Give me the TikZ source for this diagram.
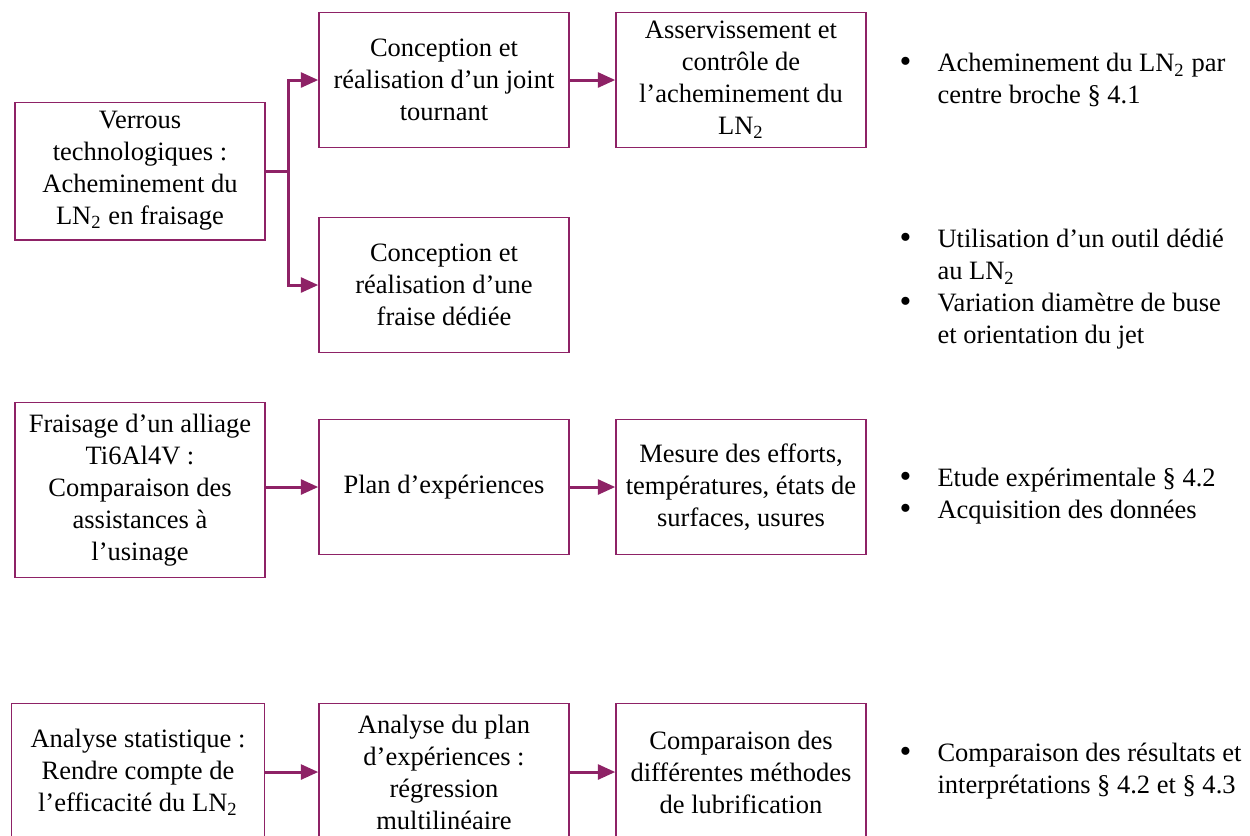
\documentclass[tikz,border=0pt]{standalone}
\usepackage{fontspec}
\setmainfont{Liberation Serif}
\usepackage{xcolor}
\definecolor{myp}{RGB}{142, 34, 102}
\usetikzlibrary{arrows.meta, positioning}
\newcommand{\LNdeux}{LN\textsubscript{2}}
\newcommand{\puce}{\makebox[4pt][l]{\raisebox{-0.3pt}{\fontsize{13.5}{12.8}\selectfont\textbullet}}}

\begin{document}
\begin{tikzpicture}[x=0.4pt, y=-0.4pt,
    every node/.style={font=\fontsize{10.6}{12.8}\selectfont, align=center},
    box/.style={draw=myp, line width=0.6pt, minimum width=100pt, minimum height=54pt, inner sep=2pt},
    arr/.style={draw=myp, line width=1.2pt, -{Triangle[length=7pt, width=6pt]}},
    lnk/.style={draw=myp, line width=1.2pt},
    notes/.style={anchor=north west, align=left, inner sep=0pt}]
    \clip (0,0) rectangle (1250,835);
    % first block
    \node[box, minimum height=55pt] (verrou) at (140,171) {Verrous\\technologiques :\\Acheminement du\\\LNdeux{} en fraisage};
    \node[box] (joint) at (444,80) {Conception et\\réalisation d’un joint\\tournant};
    \node[box] (asserv) at (741,80) {Asservissement et\\contrôle de\\l’acheminement du\\\LNdeux};
    \node[box] (fraise) at (444,285) {Conception et\\réalisation d’une\\fraise dédiée};
    \coordinate (bus) at (288,171);
    \draw[lnk] (verrou.east) -- (bus);
    \draw[arr] (bus) |- (joint.west);
    \draw[arr] (bus) |- (fraise.west);
    \draw[arr] (joint) -- (asserv);
    % second block
    \node[box, minimum height=70pt] (fraisage) at (140,490) {Fraisage d’un alliage\\Ti6Al4V :\\Comparaison des\\assistances à\\l’usinage};
    \node[box] (plan) at (444,487) {Plan d’expériences};
    \node[box] (mesure) at (741,487) {Mesure des efforts,\\températures, états de\\surfaces, usures};
    \draw[arr] (fraisage.east |- plan) -- (plan);
    \draw[arr] (plan) -- (mesure);
    % third block
    \node[box, minimum width=101pt, minimum height=55pt] (stat) at (138,772) {Analyse statistique :\\Rendre compte de\\l’efficacité du \LNdeux};
    \node[box, minimum height=55pt] (analyse) at (444,772) {Analyse du plan\\d’expériences :\\régression\\multilinéaire};
    \node[box, minimum height=55pt] (compar) at (741,772) {Comparaison des\\différentes méthodes\\de lubrification};
    \draw[arr] (stat) -- (analyse);
    \draw[arr] (analyse) -- (compar);
    % notes
    \node[notes] (n1) at (899,49) {\begin{tabular}{@{}l@{\hspace{11.2pt}}l@{}}
        \puce & Acheminement du \LNdeux{} par\\ & centre broche § 4.1\end{tabular}};
    \node[notes] (n2) at (899,225) {\begin{tabular}{@{}l@{\hspace{11.2pt}}l@{}}
        \puce & Utilisation d’un outil dédié\\ & au \LNdeux\\
        \puce & Variation diamètre de buse\\ & et orientation du jet\end{tabular}};
    \node[notes] (n3) at (899,464) {\begin{tabular}{@{}l@{\hspace{11.2pt}}l@{}}
        \puce & Etude expérimentale § 4.2\\ \puce & Acquisition des données\end{tabular}};
    \node[notes] (n4) at (899,739) {\begin{tabular}{@{}l@{\hspace{11.2pt}}l@{}}
        \puce & Comparaison des résultats et\\ & interprétations § 4.2 et § 4.3\end{tabular}};
\end{tikzpicture}
\end{document}
